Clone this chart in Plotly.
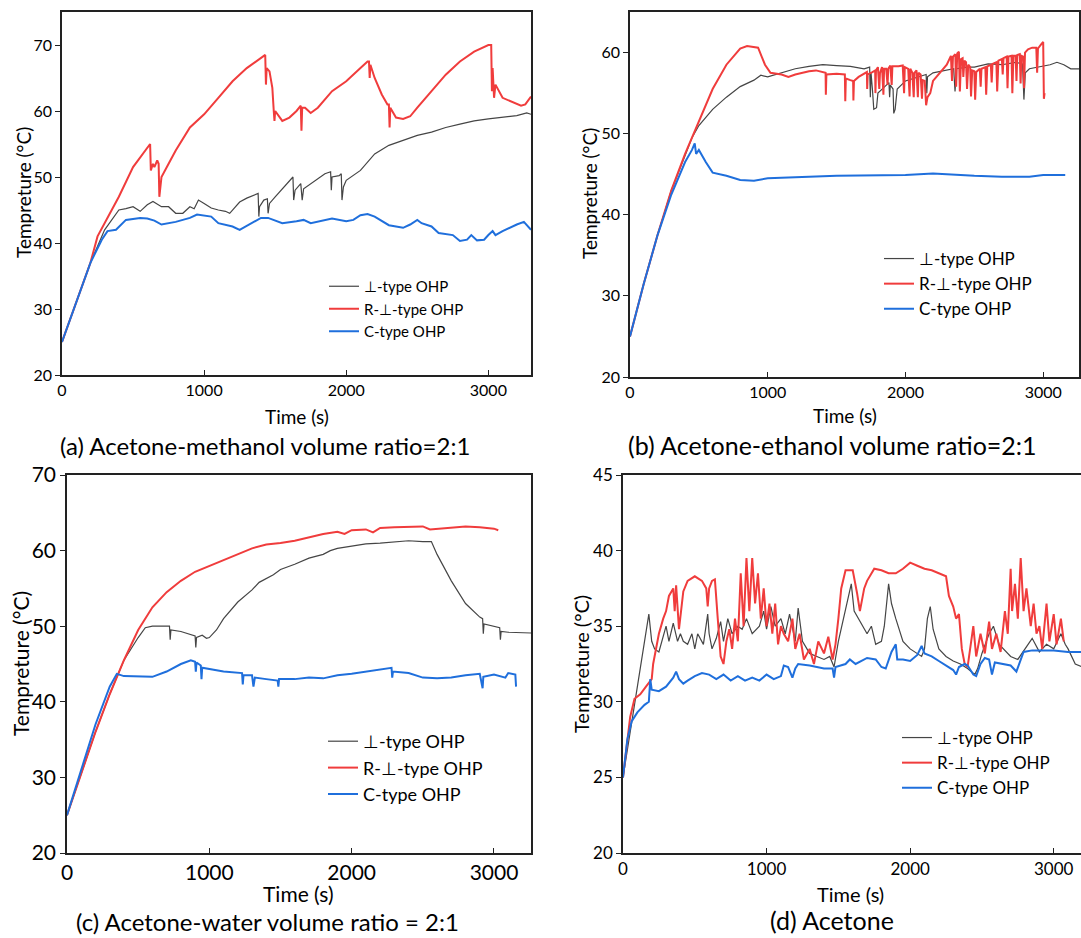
import plotly.graph_objects as go

# ---------------- Panel (a): Acetone-methanol 2:1 ----------------
a_perp_t = [0,100,200,300,350,400,450,500,550,600,640,700,750,800,850,900,930,960,1000,1050,1100,1150,1180,1250,1300,1350,1380,1385,1390,1420,1445,1450,1460,1500,1550,1600,1625,1630,1640,1680,1690,1700,1750,1800,1850,1890,1895,1900,1950,1965,1970,1980,2000,2100,2200,2300,2400,2500,2600,2700,2800,2900,3000,3100,3200,3270,3300]
a_perp_v = [25,31,37,42,43.5,45,45.2,45.5,44.8,45.8,46.3,45.5,45.5,44.5,44.5,45.5,45.2,46.5,46,45.3,45,44.8,44.5,46.2,46.8,47.3,47.5,44,45.5,46.5,46.7,44.5,46,47,48.2,49.5,50,46.5,48,49,46.5,48.2,49,49.8,50.5,50.8,48,50,50.2,50.5,46.5,48.5,49.5,51,53.5,54.8,55.5,56.3,56.8,57.5,58,58.5,58.8,59,59.3,59.7,59.5]
a_r_t = [0,100,200,250,300,400,500,600,620,625,640,650,670,680,685,690,700,750,800,900,1000,1100,1200,1300,1400,1430,1435,1440,1460,1480,1490,1495,1500,1550,1600,1650,1680,1685,1690,1710,1750,1800,1900,2000,2100,2150,2160,2165,2170,2200,2250,2290,2300,2305,2310,2350,2400,2450,2500,2600,2700,2800,2900,3000,3020,3025,3030,3040,3050,3100,3150,3200,3230,3260,3300]
a_r_v = [25,31,37,41,43,47,51.5,54.5,55,51,52,51.5,52.5,52,47,48,50,52,54,57.5,59.5,62,64.5,66.5,68,68.5,64,66.5,66,63.5,60,58.5,60,58.5,59,60,60.8,57,60.5,60.5,59.7,60.5,63,64.5,66.5,67.5,67.5,65,67,65,62.5,61,61,57.5,60.5,59,58.8,59.2,60.5,63,65.5,67.5,69,70,70,63,66.5,62,64,62,61.5,61,60.8,61,62.2]
a_c_t = [0,100,200,280,320,380,450,550,600,650,700,800,900,950,1000,1050,1100,1200,1250,1300,1400,1450,1500,1550,1650,1700,1750,1900,2000,2050,2100,2150,2200,2300,2400,2450,2500,2530,2600,2650,2750,2800,2850,2880,2920,2970,3000,3030,3050,3100,3200,3250,3300]
a_c_v = [25,31,37,40.5,41.8,42,43.5,43.8,43.7,43.4,42.8,43.2,43.8,44.3,44.2,44,43,42.5,42,42.6,43.8,43.8,43.4,43,43.3,43.5,43,43.7,43.3,43.5,44.2,44.4,44,42.7,42.3,42.8,43.5,43,42.5,41.5,41.2,40.3,40.5,41.2,40.4,40.5,41.2,41.8,41.2,41.8,42.8,43.2,42]

# ---------------- Panel (b): Acetone-ethanol 2:1 ----------------
b_perp_t = [0,100,200,300,400,450,500,600,700,800,900,950,1000,1100,1200,1300,1400,1500,1600,1700,1740,1745,1750,1760,1770,1790,1800,1850,1880,1885,1890,1910,1915,1925,1940,2000,2100,2150,2155,2160,2200,2300,2350,2360,2370,2450,2500,2600,2700,2800,2850,2860,2870,2900,3000,3050,3100,3150,3200,3270]
b_perp_v = [25,31.5,37.5,43,47.3,49.5,51,53,54.5,55.8,56.6,57.2,57,57.5,58,58.3,58.5,58.4,58.3,58,58.2,54.5,57.5,55.5,53,53.2,55,55.8,56.3,54.5,56,55.5,52.5,53,55.5,56.5,57,57.3,55,57,57.5,57.8,58,55.2,58,58.2,58.2,58.6,58.5,58.8,58.6,54.2,57.5,58,58.3,58.5,58.8,58.5,58,58]
b_r_t = [0,100,200,300,400,500,600,700,800,850,930,980,1020,1100,1150,1200,1300,1350,1400,1420,1422,1426,1500,1560,1563,1567,1600,1620,1622,1626,1660,1700,1720,1722,1726,1760,1780,1782,1786,1800,1810,1815,1830,1840,1845,1860,1870,1875,1890,1900,1905,1950,1980,1990,1995,2020,2030,2035,2050,2060,2065,2080,2090,2095,2110,2120,2125,2140,2150,2160,2180,2200,2250,2300,2330,2338,2345,2362,2368,2376,2388,2395,2404,2415,2420,2428,2440,2447,2456,2470,2476,2485,2500,2506,2514,2540,2546,2552,2580,2586,2594,2620,2626,2632,2660,2666,2675,2700,2706,2712,2735,2741,2748,2770,2776,2784,2800,2806,2812,2830,2836,2842,2855,2861,2868,2890,2920,2950,2956,2962,2985,3000,3005,3010]
b_r_v = [25,31.5,37.5,43,47.5,51.5,55.5,58.5,60.5,60.8,60.6,58.5,57.5,57.3,57,57.3,57.7,57.8,57.6,57.5,54.8,57.3,57.4,57.3,54,56.8,56.6,56.5,54.1,56.5,57,57.4,57.6,55.5,57.3,57.6,57.8,55,57.8,58.2,55.5,57.5,58.2,54.8,58,58,56,58,58.4,56,58.3,58.3,58.4,55,58.2,58,54.6,58,57.5,54.5,57.5,57.8,54.5,57.5,57.3,54.3,56.6,56.5,53.5,54.5,55,56.5,57.5,58.5,59.6,56.5,59.5,59.8,55.8,59.9,60.1,55.2,59.2,59.3,57,59,58.8,55.5,58.5,58.2,54.6,57.8,57.7,54.2,57.6,58,55.8,58,58.2,54.8,58.3,58.5,56.3,58.6,58.8,55.2,59,59.2,57.3,59.3,59.5,55.6,59.5,59.6,55,59.6,59.6,56.5,59.7,59.8,56.2,59.6,59.5,55.6,60,60.4,60.6,60.6,57.5,60.5,61,61.3,54.3,55]
b_c_t = [0,100,200,300,400,450,470,480,500,550,600,700,800,900,1000,1200,1500,2000,2200,2500,2700,2900,3000,3160]
b_c_v = [25,31.5,37.5,42.5,46.5,48,48.8,47.5,48,46.5,45.2,44.8,44.3,44.2,44.5,44.6,44.8,44.9,45.1,44.8,44.7,44.7,44.9,44.9]

# ---------------- Panel (c): Acetone-water 2:1 ----------------
c_perp_t = [0,100,200,300,400,500,550,600,700,720,725,730,800,850,900,905,910,950,980,1000,1050,1100,1200,1300,1350,1450,1500,1600,1700,1800,1850,1900,2000,2100,2200,2300,2400,2500,2560,2600,2700,2800,2900,2920,2925,2930,3000,3040,3045,3050,3100,3200,3260]
c_perp_v = [25,30.5,36,41,45.5,48.5,49.8,50,50,50,48.2,49.5,49.3,49,48.7,47.2,48.5,48.8,48.4,48.5,49.5,51,53.2,54.8,55.8,56.8,57.5,58.2,59,59.5,60,60.3,60.6,60.9,61,61.2,61.3,61.2,61.2,59.5,56,53,51.2,51,49,50.3,50,49.8,48.2,49.3,49.2,49.1,49.1]
c_r_t = [0,100,200,300,400,500,600,700,800,900,1000,1100,1200,1300,1400,1500,1600,1700,1800,1900,1950,2000,2100,2150,2200,2300,2400,2500,2550,2600,2700,2800,2900,3000,3030]
c_r_v = [25,30.5,36,41,45.5,49.5,52.5,54.5,56,57.2,58,58.8,59.5,60.3,60.8,61,61.3,61.8,62.2,62.5,62.2,62.7,62.8,62.4,63,63.1,63.2,63.2,62.8,62.9,63.1,63.2,63.1,62.9,62.7]
c_c_t = [0,100,200,300,350,400,500,600,700,800,870,900,905,910,940,945,950,1000,1100,1230,1235,1240,1300,1310,1320,1400,1480,1485,1490,1600,1700,1800,1900,2000,2100,2200,2280,2285,2290,2400,2500,2600,2700,2800,2900,2920,2925,3000,3080,3100,3150,3155]
c_c_v = [25,31,37,42,43.7,43.4,43.3,43.3,44,45,45.5,45.3,44,45.2,44.8,43,44.5,44.3,44,43.8,42.3,43.5,43.5,42,43.2,43,42.8,42,43,43,43.2,43.1,43.5,43.7,44,44.3,44.5,43.2,44,43.8,43.2,43.1,43.2,43.5,43.7,41.8,43.3,43.6,43.2,43.8,43.6,42]

# ---------------- Panel (d): Acetone ----------------
d_perp_t = [0,100,180,200,220,250,280,300,320,350,380,400,420,450,480,500,520,560,590,600,620,650,680,700,730,760,800,830,860,900,950,980,1000,1030,1060,1100,1130,1160,1200,1220,1250,1300,1350,1400,1440,1470,1500,1550,1590,1610,1650,1700,1730,1760,1800,1820,1850,1870,1900,1950,2000,2050,2080,2100,2120,2140,2160,2200,2250,2300,2350,2400,2450,2470,2500,2550,2580,2620,2650,2700,2750,2800,2850,2900,2950,3000,3050,3080,3100,3150,3200]
d_perp_v = [25,31,35.8,34,33.5,33.3,34.3,35,34,35.2,34,34.5,34,33.8,34.5,33.5,34.5,33.8,35.8,34.5,33.5,34.2,35.3,34,35.5,34.5,35,34.8,35.5,34.5,35,36,34.8,36.3,35,35.5,34.5,35.8,34,36.2,34,33.2,33,32.8,33,32.3,34,36,37.8,36,35.3,34.5,35,33.8,34,35,37.8,36.5,35.5,34,33.5,33.2,33,33.5,35.5,36.3,34.8,33.5,33,32.7,32.5,32.2,31.8,32.2,33.2,34.5,35,33.8,33.5,33,32.8,33.5,34.2,33.3,33.8,33.5,34.5,33.8,33.5,32.5,32.3]
d_r_t = [0,50,80,120,160,200,210,250,280,300,320,350,360,370,390,420,450,500,550,580,590,600,620,640,660,680,700,720,740,760,780,800,820,840,860,880,900,920,940,960,980,1000,1020,1040,1060,1080,1100,1120,1150,1180,1200,1230,1260,1300,1330,1360,1400,1430,1460,1480,1500,1520,1550,1600,1630,1650,1680,1700,1750,1800,1850,1900,1950,2000,2050,2100,2150,2200,2250,2270,2300,2320,2340,2360,2380,2400,2420,2440,2460,2490,2520,2550,2570,2600,2630,2660,2680,2700,2710,2730,2750,2770,2790,2810,2840,2860,2880,2900,2920,2950,2970,3000,3020,3050,3070]
d_r_v = [25,29,30.2,30.5,31,31.5,32.5,34.5,35.5,36,37,37.5,36,37.7,34.8,37.3,38,38.3,38,37.5,36.3,37.5,38,38.1,35.5,33,32.5,34,34.8,33.5,35.5,34,38.5,35,39.5,36,39.5,36.5,38.5,35.5,37.5,35,36.5,34.5,36.5,33.8,35,34.5,34,35.5,33.5,34.5,32.8,33.5,32.5,34,33.2,34.3,32.8,33.8,35.5,37.5,38.7,38.7,37.2,36,37.5,38,38.8,38.7,38.5,38.5,38.8,39.2,39,38.8,38.7,38.5,38.3,37,36.3,35.5,35.8,33.5,32.5,32.3,33.5,35,33,34.5,33.2,35.3,33.5,34.5,33.3,36,34.5,38.8,36,37.8,35.5,39.5,36,37.5,35,36.5,34.5,35,33.5,36.5,34,35.8,33.8,35.5,34]
d_c_t = [0,30,60,100,150,180,190,200,250,300,350,370,390,420,450,500,550,600,650,700,750,800,850,900,950,1000,1050,1100,1120,1150,1180,1200,1220,1300,1400,1460,1470,1480,1550,1580,1620,1700,1760,1800,1830,1870,1900,1910,1950,2000,2050,2080,2100,2150,2200,2250,2300,2320,2340,2380,2400,2440,2460,2490,2520,2550,2570,2590,2650,2700,2740,2760,2790,2850,2900,3000,3100,3200]
d_c_v = [25,27.5,28.7,29.3,29.8,30,31.5,30.8,30.7,31,31.6,32,31.5,31.2,31.4,31.7,31.9,31.8,31.5,31.8,31.4,31.7,31.4,31.6,31.4,31.8,31.5,31.7,32.4,32.3,31.6,32.2,32.5,32.4,32.2,32.2,31.6,32.3,32.5,32.8,32.5,32.9,32.8,32.3,32.2,33.3,33.8,32.8,32.8,32.7,33.1,33.7,33.2,33,32.7,32.4,32.1,31.8,32.3,32.5,32.4,31.8,31.7,32.5,32.9,32.8,31.8,32.6,32.5,32.4,32,32.5,33.3,33.4,33.4,33.4,33.3,33.3]

series_names = ["\u22a5-type OHP", "R-\u22a5-type OHP", "C-type OHP"]
colors = ["#454545", "#f03c3c", "#1f6fdc"]
widths = [1.2, 2.0, 2.0]

captions = ["(a) Acetone-methanol volume ratio=2:1", "(b) Acetone-ethanol volume ratio=2:1",
            "(c) Acetone-water volume ratio = 2:1", "(d) Acetone"]

FONT = "Lato, 'Open Sans', sans-serif"
W, H = 1081, 938

panels = [
    dict(data=[(a_perp_t, a_perp_v), (a_r_t, a_r_v), (a_c_t, a_c_v)],
         xpx=(62, 531), ypx=(12, 375), xr=[0, 3300], yr=[20, 75], ydt=10, tick=16,
         leg=(324, 270), legfs=15, cap=(265, 445), capfs=24, xt=(297, 416), yt=(23, 193), tfs=19),
    dict(data=[(b_perp_t, b_perp_v), (b_r_t, b_r_v), (b_c_t, b_c_v)],
         xpx=(630, 1079), ypx=(12, 377), xr=[0, 3260], yr=[20, 65], ydt=10, tick=16,
         leg=(879, 241), legfs=17, cap=(832, 445), capfs=25, xt=(845, 415), yt=(589, 193), tfs=19),
    dict(data=[(c_perp_t, c_perp_v), (c_r_t, c_r_v), (c_c_t, c_c_v)],
         xpx=(67, 531), ypx=(475, 853), xr=[0, 3260], yr=[20, 70], ydt=10, tick=21,
         leg=(323, 723), legfs=18, cap=(267, 921), capfs=24, xt=(298, 893), yt=(20, 664), tfs=21),
    dict(data=[(d_perp_t, d_perp_v), (d_r_t, d_r_v), (d_c_t, d_c_v)],
         xpx=(623, 1081), ypx=(475, 853), xr=[0, 3190], yr=[20, 45], ydt=5, tick=17,
         leg=(897, 720), legfs=17, cap=(832, 920), capfs=25, xt=(850, 894), yt=(581, 664), tfs=20),
]

fig = go.Figure()
layout = dict(width=W, height=H, margin=dict(l=0, r=0, t=0, b=0, pad=0, autoexpand=False),
              paper_bgcolor="white", plot_bgcolor="white",
              font=dict(family=FONT, color="black"), annotations=[])

for i, p in enumerate(panels):
    k = "" if i == 0 else str(i + 1)
    legname = "legend" + k
    for j, (t, v) in enumerate(p["data"]):
        fig.add_trace(go.Scatter(x=t, y=v, mode="lines", name=series_names[j],
                                 line=dict(color=colors[j], width=widths[j]),
                                 xaxis="x" + k, yaxis="y" + k, legend=legname,
                                 showlegend=True))
    x0, x1 = p["xpx"]
    y0, y1 = p["ypx"]
    layout["xaxis" + k] = dict(domain=[x0 / W, x1 / W], range=p["xr"], anchor="y" + k,
                               showline=True, linecolor="#222", linewidth=1.5, mirror=True,
                               ticks="inside", ticklen=5, tickcolor="#222", dtick=1000,
                               showgrid=False, zeroline=False,
                               tickfont=dict(size=p["tick"], family=FONT))
    layout["yaxis" + k] = dict(domain=[1 - y1 / H, 1 - y0 / H], range=p["yr"], anchor="x" + k,
                               showline=True, linecolor="#222", linewidth=1.5, mirror=True,
                               ticks="outside", ticklen=5, tickcolor="#222", dtick=p["ydt"],
                               showgrid=False, zeroline=False,
                               tickfont=dict(size=p["tick"], family=FONT))
    lx, ly = p["leg"]
    layout[legname] = dict(x=lx / W, y=1 - ly / H, xanchor="left", yanchor="top",
                           bgcolor="rgba(0,0,0,0)", font=dict(size=p["legfs"], family=FONT),
                           tracegroupgap=0, itemwidth=30)
    common = dict(xref="paper", yref="paper", showarrow=False, xanchor="center", yanchor="middle")
    layout["annotations"].append(dict(text=captions[i], x=p["cap"][0] / W, y=1 - p["cap"][1] / H,
                                      font=dict(size=p["capfs"], family=FONT), **common))
    layout["annotations"].append(dict(text="Time (s)", x=p["xt"][0] / W, y=1 - p["xt"][1] / H,
                                      font=dict(size=p["tfs"], family=FONT), **common))
    layout["annotations"].append(dict(text="Tempreture (\u00b0C)", x=p["yt"][0] / W, y=1 - p["yt"][1] / H,
                                      textangle=-90, font=dict(size=p["tfs"], family=FONT), **common))

fig.update_layout(**layout)
fig.write_html("out.html", config={"displayModeBar": False},
               post_script="document.body.style.margin='0px';document.body.style.padding='0px';")
